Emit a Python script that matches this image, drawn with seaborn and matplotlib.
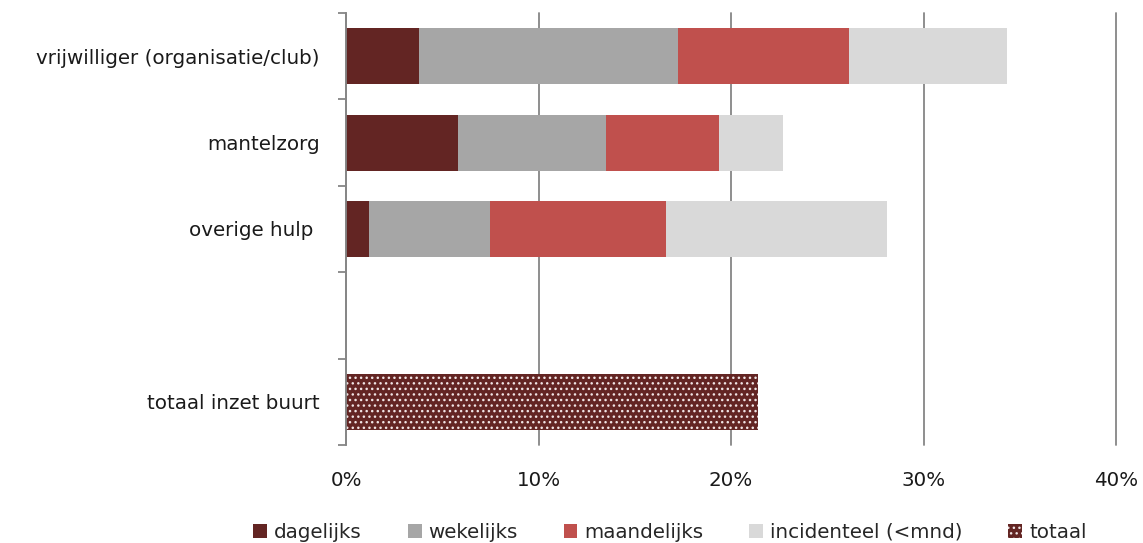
import matplotlib
matplotlib.use("Agg")
import matplotlib.pyplot as plt
import seaborn as sns
import pandas as pd
import numpy as np
from matplotlib.patches import Patch

categories = ["vrijwilliger (organisatie/club)", "mantelzorg", "overige hulp "]
dagelijks = [3.8, 5.8, 1.2]
wekelijks = [13.45, 7.7, 6.3]
maandelijks = [8.9, 5.9, 9.1]
incidenteel = [8.2, 3.3, 11.5]
totaal_label = "totaal inzet buurt"
totaal_value = [21.4]
order = categories + [" ", totaal_label]
series_names = ["dagelijks", "wekelijks", "maandelijks", "incidenteel (<mnd)"]
colors = ["#632523", "#A6A6A6", "#C0504D", "#D9D9D9"]
xticks = [0, 10, 20, 30, 40]

sns.set_theme(style="white")
plt.rcParams["font.family"] = ["DejaVu Sans"]
plt.rcParams["hatch.linewidth"] = 1.0

FS = 14.3
HATCH_COL = "#f0e4e4"

fig = plt.figure(figsize=(11.43, 5.43), dpi=100)
ax = fig.add_axes([346 / 1143, 1 - 445 / 543, (1116 - 346) / 1143, (445 - 13) / 543])

df = pd.DataFrame({"cat": categories, "d": dagelijks, "w": wekelijks,
                   "m": maandelijks, "i": incidenteel})
cum = df[["d", "w", "m", "i"]].cumsum(axis=1)

for col, color in zip(["i", "m", "w", "d"], colors[::-1]):
    sns.barplot(x=cum[col], y=df["cat"], order=order, color=color, orient="h",
                width=0.65, ax=ax, linewidth=0, saturation=1, zorder=3)

tdf = pd.DataFrame({"cat": [totaal_label], "v": totaal_value})
sns.barplot(data=tdf, x="v", y="cat", order=order, color=colors[0], orient="h",
            width=0.65, ax=ax, saturation=1, zorder=3)
for p in ax.patches[-1:]:
    p.set_hatch("...")
    p.set_edgecolor(HATCH_COL)
    p.set_linewidth(0)

ax.set_xlim(0, 40)
ax.set_ylim(4.5, -0.5)
ax.set_xticks(xticks)
ax.set_xticklabels([f"{t}%" for t in xticks])
ax.set_xlabel("")
ax.set_ylabel("")
ax.grid(axis="x", color="#868686", linewidth=1.3, zorder=0)
for gl in ax.get_xgridlines():
    gl.set_clip_on(False)
ax.set_axisbelow(True)
for s in ["top", "right", "bottom"]:
    ax.spines[s].set_visible(False)
ax.spines["left"].set_color("#868686")
ax.spines["left"].set_linewidth(1.3)
ax.spines["left"].set_zorder(5)

ax.tick_params(axis="y", which="major", left=False, length=0, pad=19, labelsize=FS,
               labelcolor="#1a1a1a")
ax.set_yticks(np.arange(-0.5, 5.0, 1.0), minor=True)
ax.tick_params(axis="y", which="minor", left=True, length=6, width=1.3,
               color="#868686", direction="out")
ax.tick_params(axis="x", length=0, pad=19, labelsize=FS, labelcolor="#1a1a1a")

handles = [Patch(facecolor=c, edgecolor="none") for c in colors]
handles.append(Patch(facecolor=colors[0], edgecolor=HATCH_COL, hatch="...", linewidth=0))
labels = series_names + ["totaal"]
fig.legend(handles, labels, loc="center", bbox_to_anchor=(670 / 1143, 1 - 532 / 543),
           ncol=5, frameon=False, fontsize=FS, handlelength=0.7, handleheight=0.7,
           handletextpad=0.35, columnspacing=2.3)

fig.savefig("out.png", dpi=100)
